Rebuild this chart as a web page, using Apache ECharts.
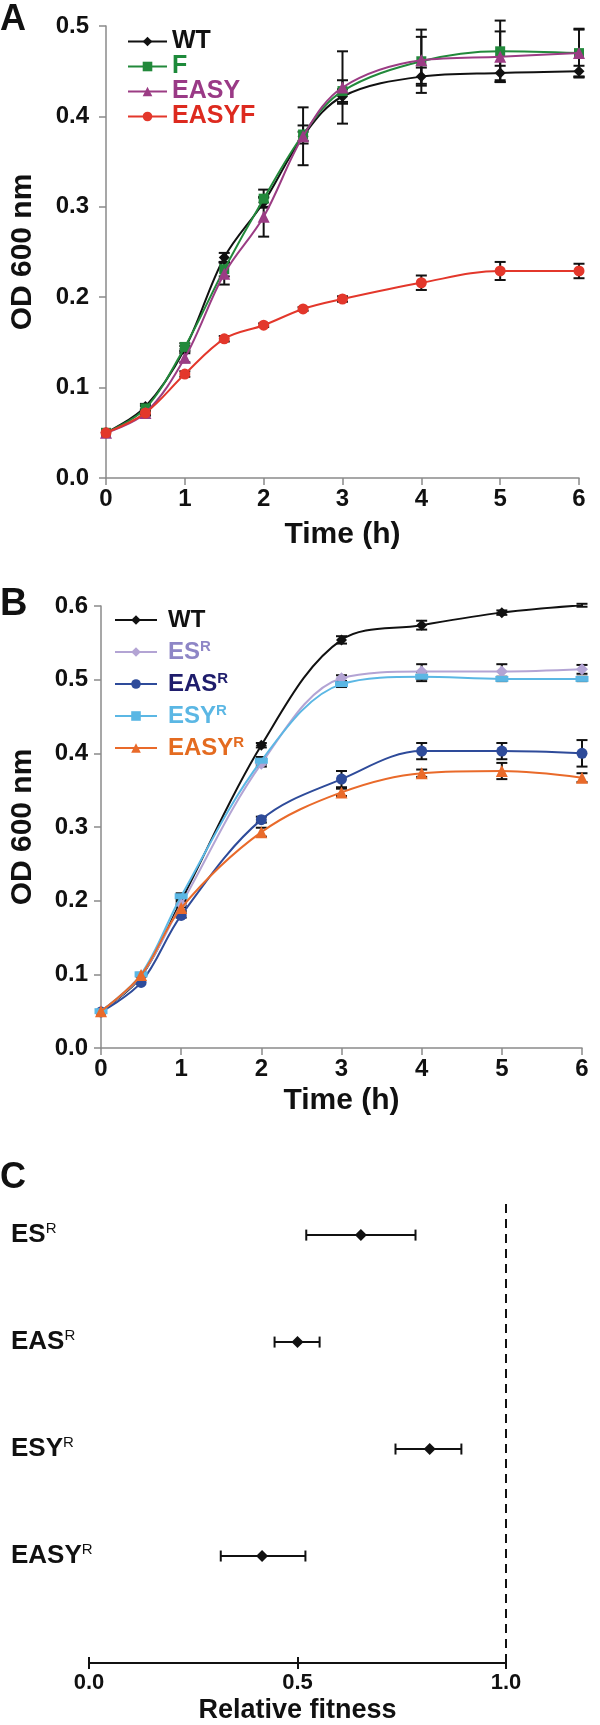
<!DOCTYPE html>
<html><head><meta charset="utf-8">
<script src="https://cdn.jsdelivr.net/npm/echarts@6/dist/echarts.min.js"></script>
<style>html,body{margin:0;padding:0;background:#fff}#c{width:600px;height:1725px}</style>
</head><body><div id="c"></div>
<script>
// ---------- DATA ----------
const timesA = [0, 0.5, 1, 1.5, 2, 2.5, 3, 4, 5, 6];
const namesA = ['WT', 'F', 'EASY', 'EASYF'];
const wtA    = [0.050, 0.079, 0.143, 0.244, 0.305, 0.378, 0.422, 0.444, 0.448, 0.450];
const fA     = [0.050, 0.077, 0.145, 0.231, 0.309, 0.380, 0.428, 0.461, 0.472, 0.470];
const easyA  = [0.050, 0.072, 0.133, 0.226, 0.289, 0.378, 0.432, 0.462, 0.466, 0.470];
const easyfA = [0.050, 0.072, 0.115, 0.154, 0.169, 0.187, 0.198, 0.216, 0.229, 0.229];
const wtAErr    = [0, 0.003, 0.003, 0.005, 0.005, 0.005, 0.008, 0.010, 0.008, 0.006];
const fAErr     = [0, 0.003, 0.004, 0.008, 0.010, 0.010, 0.012, 0.035, 0.034, 0.027];
const easyAErr  = [0, 0.003, 0.005, 0.012, 0.022, 0.032, 0.040, 0.026, 0.028, 0.026];
const easyfAErr = [0, 0.002, 0.003, 0.003, 0.002, 0.002, 0.003, 0.008, 0.010, 0.008];

const timesB = [0, 0.5, 1, 2, 3, 4, 5, 6];
const namesB = ['WT', 'ES', 'EAS', 'ESY', 'EASY'];
const wtB   = [0.050, 0.097, 0.200, 0.411, 0.554, 0.574, 0.591, 0.601];
const esB   = [0.050, 0.098, 0.195, 0.386, 0.502, 0.511, 0.511, 0.514];
const easB  = [0.049, 0.089, 0.180, 0.310, 0.365, 0.403, 0.403, 0.400];
const esyB  = [0.050, 0.100, 0.206, 0.390, 0.494, 0.504, 0.501, 0.501];
const easyB = [0.050, 0.099, 0.190, 0.293, 0.347, 0.373, 0.376, 0.367];
const wtBErr   = [0, 0, 0.004, 0.003, 0.005, 0.006, 0.003, 0.002];
const esBErr   = [0, 0, 0.004, 0.004, 0.004, 0.010, 0.010, 0.006];
const easBErr  = [0, 0, 0.003, 0.004, 0.011, 0.011, 0.011, 0.018];
const esyBErr  = [0, 0.002, 0.004, 0.005, 0.004, 0.006, 0.003, 0.003];
const easyBErr = [0, 0.002, 0.004, 0.006, 0.005, 0.005, 0.011, 0.006];

const strainsC  = ['ES', 'EAS', 'ESY', 'EASY'];
const fitnessC  = [0.652, 0.500, 0.817, 0.415];
const fitLowC   = [0.521, 0.445, 0.735, 0.316];
const fitHighC  = [0.783, 0.553, 0.893, 0.519];
const refFitness = 1.0;

const ticksA_Y = [0, 0.5, 0.1];
const ticksB_Y = [0, 0.6, 0.1];
const ticksX = [0, 6, 1];
const ticksC_X = [0, 1, 0.5];

// ---------- STYLE ----------
const FONT = '"Liberation Sans", Arial, Helvetica, sans-serif';
const AX = '#8a8a8a';
const colA = {WT: '#111111', F: '#22893b', EASY: '#9b3c84', EASYF: '#e3372b'};
const txtA = {WT: '#111111', F: '#1d8a3a', EASY: '#9a3a86', EASYF: '#dd2a1f'};
const colB = {WT: '#111111', ES: '#b3a4d4', EAS: '#2e4b9a', ESY: '#5bb7e4', EASY: '#e96a2a'};
const txtB = {WT: '#111111', ES: '#8e86c6', EAS: '#1f1d6c', ESY: '#5bb7e4', EASY: '#e46b20'};

function zip(xs, ys) { return xs.map((x, i) => [x, ys[i]]); }
function zipErr(xs, ys, es) { return xs.map((x, i) => [x, ys[i], es[i]]); }

function vErr(capHalf, lw) {
  return function (params, api) {
    const x = api.value(0), y = api.value(1), e = api.value(2);
    if (!e) return {type: 'group', children: []};
    const t = api.coord([x, y + e]), b = api.coord([x, y - e]);
    const cx = t[0], st = {stroke: '#111', lineWidth: lw};
    return {type: 'group', children: [
      {type: 'line', shape: {x1: cx, y1: t[1], x2: cx, y2: b[1]}, style: st},
      {type: 'line', shape: {x1: cx - capHalf, y1: t[1], x2: cx + capHalf, y2: t[1]}, style: st},
      {type: 'line', shape: {x1: cx - capHalf, y1: b[1], x2: cx + capHalf, y2: b[1]}, style: st}
    ]};
  };
}
function hErr(capHalf, lw) {
  return function (params, api) {
    const lo = api.value(0), hi = api.value(1), y = api.value(2);
    const l = api.coord([lo, y]), r = api.coord([hi, y]);
    const st = {stroke: '#111', lineWidth: lw};
    return {type: 'group', children: [
      {type: 'line', shape: {x1: l[0], y1: l[1], x2: r[0], y2: r[1]}, style: st},
      {type: 'line', shape: {x1: l[0], y1: l[1] - capHalf, x2: l[0], y2: l[1] + capHalf}, style: st},
      {type: 'line', shape: {x1: r[0], y1: r[1] - capHalf, x2: r[0], y2: r[1] + capHalf}, style: st}
    ]};
  };
}

function xAxisTime(gi, nameGap) {
  return {
    gridIndex: gi, type: 'value', min: ticksX[0], max: ticksX[1], interval: ticksX[2],
    axisLine: {lineStyle: {color: AX, width: 1.5}},
    axisTick: {length: 7, lineStyle: {color: AX, width: 1.5}},
    splitLine: {show: false},
    axisLabel: {fontSize: 24, fontWeight: 'bold', color: '#111', margin: 9, fontFamily: FONT},
    name: 'Time (h)', nameLocation: 'middle', nameGap: nameGap,
    nameTextStyle: {fontSize: 30, fontWeight: 'bold', color: '#111', fontFamily: FONT}
  };
}
function yAxisOD(gi, t, margin, nameGap) {
  return {
    gridIndex: gi, type: 'value', min: t[0], max: t[1], interval: t[2],
    axisLine: {show: true, lineStyle: {color: AX, width: 1.5}},
    axisTick: {show: true, length: 7, lineStyle: {color: AX, width: 1.5}},
    splitLine: {show: false},
    axisLabel: {fontSize: 24, fontWeight: 'bold', color: '#111', margin: margin, fontFamily: FONT,
      formatter: v => v.toFixed(1)},
    name: 'OD 600 nm', nameLocation: 'middle', nameGap: nameGap,
    nameTextStyle: {fontSize: 30, fontWeight: 'bold', color: '#111', fontFamily: FONT}
  };
}

const series = [];
// Panel A lines
const seriesA = [
  {name: 'WT', data: wtA, err: wtAErr, symbol: 'diamond', size: 11},
  {name: 'F', data: fA, err: fAErr, symbol: 'rect', size: 10},
  {name: 'EASY', data: easyA, err: easyAErr, symbol: 'triangle', size: 12},
  {name: 'EASYF', data: easyfA, err: easyfAErr, symbol: 'circle', size: 11}
];
seriesA.forEach((s, i) => {
  series.push({
    type: 'custom', xAxisIndex: 0, yAxisIndex: 0, renderItem: vErr(5.5, 2),
    data: zipErr(timesA, s.data, s.err), encode: {x: 0, y: 1}, z: 3, silent: true
  });
});
seriesA.forEach((s, i) => {
  series.push({
    name: s.name, type: 'line', xAxisIndex: 0, yAxisIndex: 0, smooth: 0.35,
    data: zip(timesA, s.data), symbol: s.symbol, symbolSize: s.size,
    lineStyle: {color: colA[s.name], width: 2}, itemStyle: {color: colA[s.name]},
    z: 4 + i
  });
});
// Panel B lines
const seriesB = [
  {key: 'WT', name: 'WT ', data: wtB, err: wtBErr, symbol: 'diamond', size: 11},
  {key: 'ES', name: 'ESR', data: esB, err: esBErr, symbol: 'diamond', size: 12},
  {key: 'EAS', name: 'EASR', data: easB, err: easBErr, symbol: 'circle', size: 11},
  {key: 'ESY', name: 'ESYR', data: esyB, err: esyBErr, symbol: 'rect', size: [13, 6]},
  {key: 'EASY', name: 'EASYR', data: easyB, err: easyBErr, symbol: 'triangle', size: 12}
];
seriesB.forEach(s => {
  series.push({
    type: 'custom', xAxisIndex: 1, yAxisIndex: 1, renderItem: vErr(5.5, 2),
    data: zipErr(timesB, s.data, s.err), encode: {x: 0, y: 1}, z: 3, silent: true
  });
});
seriesB.forEach((s, i) => {
  series.push({
    name: s.name, type: 'line', xAxisIndex: 1, yAxisIndex: 1, smooth: 0.35,
    data: zip(timesB, s.data), symbol: s.symbol, symbolSize: s.size,
    lineStyle: {color: colB[s.key], width: 2}, itemStyle: {color: colB[s.key]},
    z: 4 + i
  });
});
// Panel C
const nC = strainsC.length;
series.push({
  type: 'custom', xAxisIndex: 2, yAxisIndex: 2, renderItem: hErr(5.5, 2),
  data: strainsC.map((s, i) => [fitLowC[i], fitHighC[i], nC - i]), encode: {x: [0, 1], y: 2}, z: 3, silent: true
});
series.push({
  type: 'scatter', xAxisIndex: 2, yAxisIndex: 2, symbol: 'diamond', symbolSize: 12,
  itemStyle: {color: '#111', opacity: 1}, z: 5,
  data: strainsC.map((s, i) => [fitnessC[i], nC - i]),
  markLine: {silent: true, symbol: 'none', label: {show: false},
    lineStyle: {color: '#111', type: [9, 6], width: 2},
    data: [{xAxis: refFitness}]}
});

const richB = {};
seriesB.forEach((s, i) => {
  richB['b' + i] = {fontSize: 24, fontWeight: 'bold', color: txtB[s.key], fontFamily: FONT, lineHeight: 30};
  richB['s' + i] = {fontSize: 15, color: txtB[s.key], fontFamily: FONT, verticalAlign: 'top', lineHeight: 15, padding: [2, 0, 0, 0]};
});

const option = {
  animation: false,
  backgroundColor: '#fff',
  grid: [
    {left: 105, top: 26, width: 474, height: 452},
    {left: 101, top: 606, width: 481, height: 442},
    {left: 89, top: 1203, width: 417, height: 460}
  ],
  xAxis: [
    xAxisTime(0, 42),
    xAxisTime(1, 38),
    {gridIndex: 2, type: 'value', position: 'bottom', min: ticksC_X[0], max: ticksC_X[1], interval: ticksC_X[2],
      axisLine: {lineStyle: {color: '#111', width: 2}},
      axisTick: {length: 6, lineStyle: {color: '#111', width: 2}},
      splitLine: {show: false},
      axisLabel: {fontSize: 22, fontWeight: 'bold', color: '#111', margin: 9, fontFamily: FONT,
        formatter: v => v.toFixed(1)},
      name: 'Relative fitness', nameLocation: 'middle', nameGap: 34,
      nameTextStyle: {fontSize: 27, fontWeight: 'bold', color: '#111', fontFamily: FONT}},
    {gridIndex: 2, type: 'value', position: 'bottom', offset: 0, min: ticksC_X[0], max: ticksC_X[1], interval: ticksC_X[2],
      axisLine: {show: false}, axisLabel: {show: false}, splitLine: {show: false},
      axisTick: {inside: true, length: 6, lineStyle: {color: '#111', width: 2}}}
  ],
  yAxis: [
    yAxisOD(0, ticksA_Y, 17, 68),
    yAxisOD(1, ticksB_Y, 13, 63),
    {gridIndex: 2, type: 'value', min: 0, max: 4.3, interval: 1,
      axisLine: {show: false}, axisTick: {show: false}, splitLine: {show: false},
      axisLabel: {align: 'left', margin: 78, fontFamily: FONT,
        formatter: v => {
          const i = nC - v;
          if (Number.isInteger(v) && i >= 0 && i < nC) return '{b|' + strainsC[i] + '}{s|R}';
          return '';
        },
        rich: {
          b: {fontSize: 26, fontWeight: 'bold', color: '#111', fontFamily: FONT, lineHeight: 30},
          s: {fontSize: 15, color: '#111', fontFamily: FONT, verticalAlign: 'top', lineHeight: 15, padding: [1, 0, 0, 0]}
        }}}
  ],
  legend: [
    {orient: 'vertical', left: 127, top: 29, itemWidth: 39, itemHeight: 12, itemGap: 0,
      padding: 0, selectedMode: false,
      textStyle: {fontSize: 25, fontWeight: 'bold', fontFamily: FONT, lineHeight: 25},
      data: namesA.map(n => ({name: n, textStyle: {color: txtA[n]}}))},
    {orient: 'vertical', left: 114, top: 605, itemWidth: 42, itemHeight: 12, itemGap: 2,
      padding: 0, selectedMode: false,
      textStyle: {fontSize: 24, fontWeight: 'bold', fontFamily: FONT, lineHeight: 30, padding: [0, 0, 0, 6], rich: richB},
      formatter: name => {
        const i = seriesB.findIndex(s => s.name === name);
        if (seriesB[i].key === 'WT') return '{b' + i + '|WT}';
        return '{b' + i + '|' + seriesB[i].key + '}{s' + i + '|R}';
      },
      data: seriesB.map(s => ({name: s.name}))}
  ],
  graphic: [
    {type: 'text', left: 0, top: 2, style: {text: 'A', fontSize: 36, fontWeight: 'bold', fontFamily: FONT, fill: '#111'}},
    {type: 'text', left: 0, top: 586, style: {text: 'B', fontSize: 38, fontWeight: 'bold', fontFamily: FONT, fill: '#111'}},
    {type: 'text', left: 0, top: 1160, style: {text: 'C', fontSize: 36, fontWeight: 'bold', fontFamily: FONT, fill: '#111'}}
  ],
  series: series
};

const chart = echarts.init(document.getElementById('c'), null, {renderer: 'canvas'});
chart.setOption(option);
</script>
</body></html>
